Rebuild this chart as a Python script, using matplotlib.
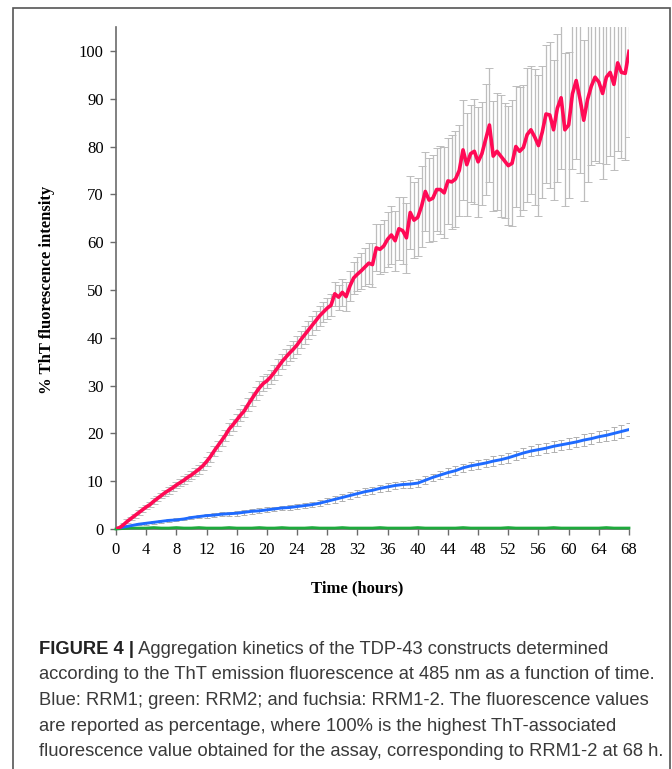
import matplotlib
matplotlib.use("Agg")
import matplotlib.pyplot as plt
import numpy as np
from matplotlib.patches import Rectangle

# RRM1-2 (fuchsia), sampled every 0.5 h
red_t = np.arange(0, 68.5, 0.5)
red_v = [0.0, 0.3, 0.9, 1.6, 2.2, 2.8, 3.4, 4.0, 4.6, 5.1,
         5.8, 6.4, 7.0, 7.6, 8.1, 8.6, 9.2, 9.7, 10.2, 10.8,
         11.3, 11.9, 12.5, 13.2, 14.1, 15.1, 16.3, 17.4, 18.5, 19.6,
         20.9, 21.8, 22.8, 23.8, 24.7, 26.0, 27.2, 28.4, 29.5, 30.4,
         31.0, 31.8, 32.8, 33.9, 35.0, 35.9, 36.8, 37.6, 38.5, 39.6,
         40.6, 41.6, 42.6, 43.6, 44.6, 45.4, 46.2, 46.8, 49.2, 48.5,
         49.5, 48.6, 50.8, 52.5, 53.3, 54.0, 54.8, 55.6, 55.3, 58.8,
         58.5, 59.2, 60.6, 61.5, 60.3, 62.8, 62.4, 60.9, 66.2, 64.6,
         65.2, 67.5, 70.6, 68.8, 69.2, 71.0, 71.0, 70.3, 72.8, 72.6,
         73.2, 75.0, 79.3, 76.2, 78.5, 79.0, 76.8, 78.5, 81.5, 84.5,
         78.0, 79.0, 78.0, 77.0, 76.0, 76.5, 80.0, 79.0, 79.8, 82.5,
         83.5, 82.0, 80.2, 83.0, 86.8, 86.6, 83.5, 88.0, 90.2, 83.5,
         84.5, 91.0, 93.8, 90.0, 85.5, 89.8, 92.6, 94.5, 93.5, 91.1,
         94.5, 95.5, 93.0, 97.5, 95.5, 95.3, 99.9]
red_err = [0.2, 0.3, 0.3, 0.4, 0.4, 0.4, 0.5, 0.5, 0.5, 0.5,
           0.6, 0.6, 0.6, 0.6, 0.7, 0.7, 0.7, 0.7, 0.8, 0.8,
           0.8, 0.8, 0.9, 0.9, 1.0, 1.0, 1.0, 1.1, 1.1, 1.2,
           1.2, 1.3, 1.2, 1.3, 1.3, 1.4, 1.4, 1.4, 1.5, 1.5,
           1.5, 1.5, 1.6, 1.6, 1.6, 1.7, 1.7, 1.8, 1.8, 1.8,
           1.9, 1.9, 2.0, 2.0, 2.1, 2.1, 2.2, 2.3, 2.5, 2.6,
           2.8, 3.0, 3.2, 3.4, 3.6, 3.8, 4.0, 4.3, 4.6, 4.9,
           5.2, 5.5, 5.8, 6.0, 6.3, 6.6, 7.0, 7.3, 7.6, 8.0,
           8.2, 8.5, 8.3, 8.8, 9.0, 8.6, 9.2, 9.5, 9.0, 9.8,
           10.0, 9.6, 10.4, 10.8, 10.2, 11.0, 11.5, 10.8, 11.6, 12.0,
           11.5, 12.2, 12.8, 12.0, 12.5, 13.2, 12.6, 13.5, 13.0, 14.0,
           13.4, 14.2, 14.8, 13.8, 14.5, 15.2, 14.6, 15.5, 15.0, 16.0,
           15.2, 15.8, 16.5, 15.6, 16.8, 17.2, 16.4, 17.5, 17.0, 17.8,
           18.2, 17.4, 18.0, 18.5, 17.8, 18.2, 18.0]

# RRM1 (blue) and RRM2 (green), sampled every hour
hours = np.arange(0, 69, 1)
blue_v = [0.0, 0.4, 0.7, 1.0, 1.2, 1.4, 1.6, 1.8, 1.9, 2.1,
          2.4, 2.6, 2.8, 2.9, 3.1, 3.2, 3.3, 3.5, 3.7, 3.8,
          4.0, 4.2, 4.4, 4.5, 4.7, 4.9, 5.1, 5.4, 5.8, 6.2,
          6.6, 7.0, 7.4, 7.8, 8.1, 8.5, 8.8, 9.1, 9.3, 9.4,
          9.6, 10.2, 10.8, 11.3, 11.8, 12.2, 12.8, 13.2, 13.5, 13.8,
          14.2, 14.5, 14.9, 15.4, 15.9, 16.3, 16.6, 16.9, 17.3, 17.6,
          17.9, 18.2, 18.6, 18.9, 19.3, 19.6, 20.0, 20.4, 20.8]
blue_err = [0.1, 0.2, 0.2, 0.2, 0.3, 0.3, 0.3, 0.3, 0.3, 0.3,
            0.4, 0.4, 0.4, 0.4, 0.4, 0.4, 0.5, 0.5, 0.5, 0.5,
            0.5, 0.5, 0.5, 0.6, 0.6, 0.6, 0.6, 0.6, 0.6, 0.7,
            0.7, 0.7, 0.7, 0.7, 0.7, 0.7, 0.8, 0.8, 0.8, 0.8,
            0.8, 0.8, 0.8, 0.9, 0.9, 0.9, 0.9, 0.9, 0.9, 0.9,
            1.0, 1.0, 1.0, 1.0, 1.0, 1.0, 1.1, 1.1, 1.1, 1.1,
            1.1, 1.1, 1.2, 1.2, 1.2, 1.2, 1.3, 1.3, 1.3]
green_v = [0.0, 0.1, 0.2, 0.2, 0.2, 0.3, 0.2, 0.2, 0.3, 0.2,
           0.2, 0.3, 0.2, 0.2, 0.2, 0.3, 0.2, 0.2, 0.2, 0.3,
           0.2, 0.2, 0.3, 0.2, 0.2, 0.2, 0.3, 0.2, 0.2, 0.2,
           0.3, 0.2, 0.2, 0.2, 0.2, 0.3, 0.2, 0.2, 0.2, 0.2,
           0.3, 0.2, 0.2, 0.2, 0.2, 0.2, 0.3, 0.2, 0.2, 0.2,
           0.2, 0.2, 0.3, 0.2, 0.2, 0.2, 0.2, 0.2, 0.3, 0.2,
           0.2, 0.2, 0.2, 0.2, 0.2, 0.3, 0.2, 0.2, 0.2]

x_ticks = np.arange(0, 69, 4)
y_ticks = np.arange(0, 101, 10)

caption_head = "FIGURE 4 |"
caption_lines = [
    " Aggregation kinetics of the TDP-43 constructs determined",
    "according to the ThT emission fluorescence at 485 nm as a function of time.",
    "Blue: RRM1; green: RRM2; and fuchsia: RRM1-2. The fluorescence values",
    "are reported as percentage, where 100% is the highest ThT-associated",
    "fluorescence value obtained for the assay, corresponding to RRM1-2 at 68 h.",
]

fig = plt.figure(figsize=(6.72, 7.69), dpi=100)
ax = fig.add_axes([116/672, 240/769, 513/672, 502/769])

ax.errorbar(red_t, red_v, yerr=red_err, fmt='none', ecolor='#bdbdbd',
            elinewidth=0.9, capsize=2.6, capthick=0.7, zorder=1)
ax.errorbar(hours, blue_v, yerr=blue_err, fmt='none', ecolor='#b0b0b0',
            elinewidth=0.7, capsize=2.4, capthick=0.7, zorder=1)
ax.plot(hours, green_v, color='#1eaa3c', lw=2.0, zorder=3, clip_on=False)
ax.plot(hours, blue_v, color='#1f6bff', lw=2.1, zorder=4)
ax.plot(red_t, red_v, color='#ff0a55', lw=2.6, zorder=5)

ax.set_xlim(0, 68)
ax.set_ylim(0, 105)
ax.set_xticks(x_ticks)
ax.set_yticks(y_ticks)
for s in ['top', 'right']:
    ax.spines[s].set_visible(False)
for s in ['left', 'bottom']:
    ax.spines[s].set_color('#6b6b6b')
    ax.spines[s].set_linewidth(1.2)
ax.tick_params(direction='out', length=4, width=1.0, color='#6b6b6b',
               labelsize=12, pad=5)
for lab in ax.get_xticklabels() + ax.get_yticklabels():
    lab.set_family('Liberation Serif')

fig.text(357/672, 1 - 588/769, "Time (hours)", ha='center', va='center',
         family='Liberation Serif', fontweight='bold', fontsize=12)
fig.text(47/672, 1 - 290/769, "% ThT fluorescence intensity", ha='center',
         va='center', rotation=90, family='Liberation Serif',
         fontweight='bold', fontsize=12)

# caption
cap_x = 39/672
cap_y0 = 649
step = 25.7
head = fig.text(cap_x, 1 - cap_y0/769, caption_head, ha='left', va='center',
                family='Liberation Sans', fontweight='bold', fontsize=13.2,
                color='#222222')
fig.canvas.draw()
bb = head.get_window_extent()
x_after = bb.x1 / fig.bbox.width
for i, line in enumerate(caption_lines):
    xx = x_after if i == 0 else cap_x
    fig.text(xx, 1 - (cap_y0 + i*step)/769, line, ha='left', va='center',
             family='Liberation Sans', fontsize=13.2, color='#3a3a3a')

# frame around the figure
fig.patches.append(Rectangle((13/672, -0.02), 657/672, 1.02 - 8/769,
                             transform=fig.transFigure, fill=False,
                             edgecolor='#555555', lw=1.2))

fig.savefig("out.png", dpi=100)
